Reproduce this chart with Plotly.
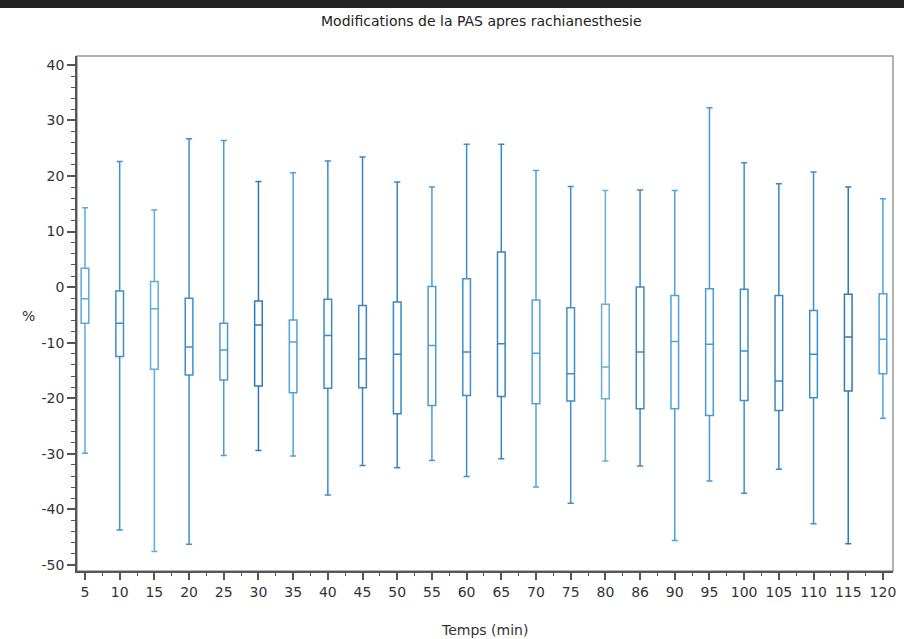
import plotly.graph_objects as go

categories = ["5", "10", "15", "20", "25", "30", "35", "40", "45", "50", "55", "60",
              "65", "70", "75", "80", "86", "90", "95", "100", "105", "110", "115", "120"]
upper = [14.3, 22.6, 13.9, 26.7, 26.4, 19.0, 20.6, 22.7, 23.4, 18.9, 18.0, 25.7,
         25.7, 21.0, 18.1, 17.4, 17.5, 17.4, 32.3, 22.4, 18.6, 20.7, 18.0, 15.9]
q3 = [3.4, -0.7, 1.0, -2.0, -6.5, -2.5, -5.9, -2.2, -3.3, -2.7, 0.1, 1.5,
      6.3, -2.3, -3.7, -3.1, 0.0, -1.5, -0.3, -0.4, -1.5, -4.2, -1.3, -1.2]
median = [-2.1, -6.5, -3.9, -10.8, -11.3, -6.8, -9.9, -8.7, -12.9, -12.1, -10.5, -11.7,
          -10.2, -11.9, -15.6, -14.4, -11.7, -9.8, -10.3, -11.5, -16.9, -12.1, -9.0, -9.4]
q1 = [-6.5, -12.5, -14.8, -15.8, -16.7, -17.8, -19.0, -18.2, -18.1, -22.8, -21.3, -19.5,
      -19.7, -21.0, -20.5, -20.1, -21.9, -21.9, -23.1, -20.4, -22.2, -19.9, -18.7, -15.6]
lower = [-29.9, -43.7, -47.6, -46.3, -30.3, -29.4, -30.4, -37.4, -32.1, -32.5, -31.2, -34.1,
         -30.9, -36.0, -38.9, -31.3, -32.2, -45.6, -34.9, -37.1, -32.8, -42.6, -46.2, -23.6]
colors = ["#5aa9dc", "#3f8fca", "#5aaee0", "#3f8fca", "#4a9bd4", "#2f7ab5", "#4ea3da", "#3a8bc6",
          "#3a86c0", "#3a86c0", "#4a9bd4", "#3f8fca", "#3a85c0", "#4ea3da", "#3f8fca", "#6aaed8",
          "#3f8ac4", "#4ea3da", "#4a9bd4", "#3f8fca", "#3a86c0", "#3f8fca", "#2f7ab5", "#4ea3da"]
y_tickvals = [40, 30, 20, 10, 0, -10, -20, -30, -40, -50]
y_ticktext = ["40", "30", "20", "10", "0", "-10", "-20", "-30", "-40", "-50"]

title = "Modifications de la PAS apres rachianesthesie"
x_title = "Temps (min)"
y_title = "%"

FONT = "DejaVu Sans, Liberation Sans, Arial, sans-serif"
xr = [-0.23, len(categories) - 1 + 0.29]

fig = go.Figure()
for i, c in enumerate(categories):
    fig.add_trace(go.Box(
        x=[c], q1=[q1[i]], median=[median[i]], q3=[q3[i]],
        lowerfence=[lower[i]], upperfence=[upper[i]],
        line=dict(color=colors[i], width=1.5), fillcolor="white",
        width=0.22, whiskerwidth=0.8, boxpoints=False, showlegend=False,
        hoverinfo="skip",
    ))

# invisible trace for minor-tick overlay axis
fig.add_trace(go.Scatter(x=[xr[0]], y=[0], xaxis="x2", mode="markers",
                         marker=dict(opacity=0), showlegend=False, hoverinfo="skip"))

fig.update_layout(
    width=904, height=639,
    margin=dict(l=77, r=8, t=56, b=68),
    paper_bgcolor="white", plot_bgcolor="white",
    boxmode="overlay",
    font=dict(family=FONT, size=14, color="#333333"),
    xaxis=dict(type="category", range=xr, showgrid=False, zeroline=False,
               showline=True, linecolor="#555555", linewidth=1.5,
               ticks="outside", ticklen=7, tickcolor="#555555", tickwidth=1.5,
               tickfont=dict(family=FONT, size=14, color="#333333")),
    xaxis2=dict(overlaying="x", anchor="y", side="bottom", range=xr, tick0=0.5, dtick=1,
                showgrid=False, zeroline=False, showline=False, showticklabels=False,
                ticks="outside", ticklen=4, tickcolor="#555555", tickwidth=1.2),
    yaxis=dict(range=[-51.1, 41.6], tickvals=y_tickvals, ticktext=y_ticktext,
               showgrid=False, zeroline=False,
               showline=True, linecolor="#555555", linewidth=1.5,
               ticks="outside", ticklen=8, tickcolor="#555555", tickwidth=1.5,
               minor=dict(dtick=2, tick0=0, ticks="outside", ticklen=4,
                          tickcolor="#555555", tickwidth=1.2),
               tickfont=dict(family=FONT, size=14, color="#333333")),
    shapes=[
        dict(type="rect", xref="paper", yref="paper", x0=0, x1=1, y0=0, y1=1,
             line=dict(color="#9a9a9a", width=1.5), layer="below"),
        dict(type="rect", xref="paper", yref="paper", x0=-0.2, x1=1.1,
             y0=1 + 48 / 515, y1=1.2, fillcolor="#242424", line=dict(width=0)),
    ],
    annotations=[
        dict(text=title, xref="paper", yref="paper", x=(483 - 77) / 819, y=1 + 35 / 515,
             showarrow=False, xanchor="center", yanchor="middle",
             font=dict(family=FONT, size=14, color="#222222")),
        dict(text=x_title, xref="paper", yref="paper", x=(486 - 77) / 819, y=-59 / 515,
             showarrow=False, xanchor="center", yanchor="middle",
             font=dict(family=FONT, size=14, color="#333333")),
        dict(text=y_title, xref="paper", yref="paper", x=-49 / 819, y=(571 - 316) / 515,
             showarrow=False, xanchor="center", yanchor="middle",
             font=dict(family=FONT, size=14, color="#333333")),
    ],
)

fig.write_html("out.html", config={"displayModeBar": False},
               post_script="document.body.style.margin='0';document.body.style.overflow='hidden';")
